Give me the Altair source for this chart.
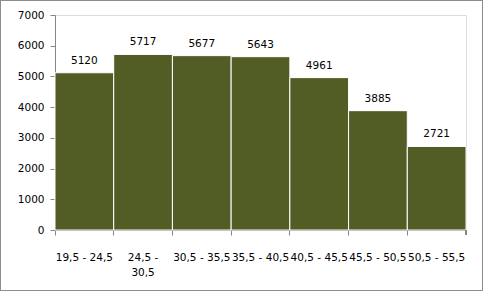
import altair as alt
import pandas as pd

categories = ["19,5 - 24,5", "24,5 - 30,5", "30,5 - 35,5", "35,5 - 40,5",
              "40,5 - 45,5", "45,5 - 50,5", "50,5 - 55,5"]
values = [5120, 5717, 5677, 5643, 4961, 3885, 2721]
yticks = [0, 1000, 2000, 3000, 4000, 5000, 6000, 7000]

df = pd.DataFrame({"cat": categories, "val": values})

FONT = "DejaVu Sans"
GRAY = "#868686"

x = alt.X("cat:N", sort=categories, title=None,
          scale=alt.Scale(paddingInner=0, paddingOuter=0),
          axis=alt.Axis(labelAngle=0, bandPosition=0, domainColor=GRAY, tickColor=GRAY,
                        tickSize=5, labelPadding=17, labelFont=FONT, labelFontSize=10.5,
                        labelColor="black", labelLimit=200, labelLineHeight=15,
                        labelOverlap=False,
                        labelExpr="datum.value == '24,5 - 30,5' ? ['24,5 -', '30,5'] : datum.value"))
y = alt.Y("val:Q", title=None,
          scale=alt.Scale(domain=[0, 7000], nice=False),
          axis=alt.Axis(values=yticks, tickCount=8, grid=False,
                        format="d", labelOverlap=False, labelFlush=False,
                        domainColor=GRAY, tickColor=GRAY, tickSize=5, labelPadding=6,
                        labelFont=FONT, labelFontSize=10.5, labelColor="black"))

bars = alt.Chart(df).mark_bar(color="#525d26", stroke="white", strokeWidth=1).encode(x=x, y=y)

labels = alt.Chart(df).mark_text(dy=-7, font=FONT, fontSize=10.5, color="black",
                                 baseline="bottom").encode(
    x=x, y=y, text="val:Q")

# extra tick at right edge of the axis
endtick = alt.Chart(df).mark_rule(color=GRAY).encode(
    x=alt.value(411), y=alt.value(215), y2=alt.value(220))

frame = alt.Chart(df).mark_rect(fill=None, stroke="#8c8c8c", strokeDash=[1, 1],
                                strokeWidth=1, clip=False).encode(
    x=alt.value(-54.5), x2=alt.value(427.5), y=alt.value(-14.5), y2=alt.value(275.5))

chart = alt.layer(bars, labels, endtick, frame).properties(
    width=411, height=215,
    autosize=alt.AutoSizeParams(type="none"),
    padding={"left": 55, "top": 15, "right": 17, "bottom": 61},
).configure_view(stroke=None).configure(background="white")

chart.save("out.html", embed_options={"renderer": "svg", "actions": False})
